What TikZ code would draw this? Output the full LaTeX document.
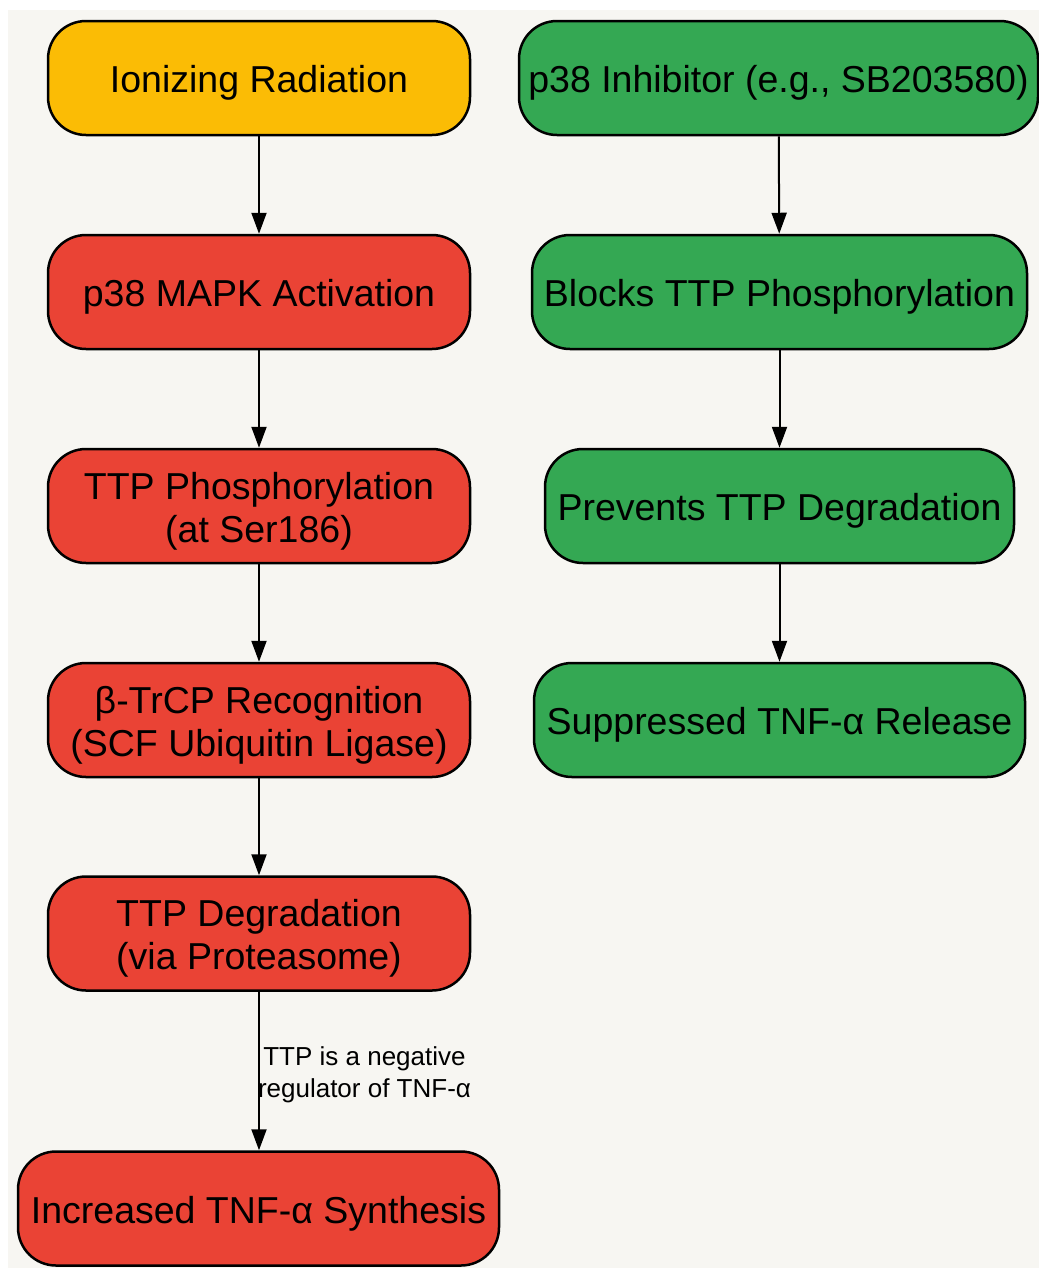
\documentclass[tikz,border=0pt]{standalone}
\usepackage{fontspec}
\setmainfont{Liberation Sans}
\usetikzlibrary{arrows.meta}
\definecolor{bgc}{HTML}{F7F6F2}
\definecolor{cyel}{HTML}{FBBC05}
\definecolor{cred}{HTML}{EA4335}
\definecolor{cgreen}{HTML}{34A853}
\begin{document}
\begin{tikzpicture}[x=1pt,y=-1pt,
  box/.style={draw=black, line width=2.5pt, rounded corners=38pt, minimum height=114pt, inner sep=0pt},
  boxtext/.style={align=center, font=\fontsize{37.5}{43}\selectfont, inner sep=0pt, yshift=-5pt},
  arr/.style={-{Triangle[length=21pt,width=15pt]}, line width=2pt},
  lbl/.style={font=\fontsize{26}{32}\selectfont, align=center, inner sep=0pt}]
\useasboundingbox (0,0) rectangle (1039,1270);
\fill[bgc] (8,10) rectangle (1039,1268);
% left column
\node[box, fill=cyel, minimum width=422pt, label={[boxtext]center:Ionizing Radiation}] (a) at (259,78) {};
\node[box, fill=cred, minimum width=422pt, label={[boxtext]center:p38 MAPK Activation}] (b) at (259,292) {};
\node[box, fill=cred, minimum width=422pt, label={[boxtext]center:{TTP Phosphorylation\\(at Ser186)}}] (c) at (259,506) {};
\node[box, fill=cred, minimum width=422pt, label={[boxtext]center:{β-TrCP Recognition\\(SCF Ubiquitin Ligase)}}] (d) at (259,720) {};
\node[box, fill=cred, minimum width=422pt, label={[boxtext]center:{TTP Degradation\\(via Proteasome)}}] (e) at (259,933.5) {};
\node[box, fill=cred, minimum width=481pt, label={[boxtext]center:Increased TNF-α Synthesis}] (f) at (258.5,1208.5) {};
% right column
\node[box, fill=cgreen, minimum width=519pt, label={[boxtext]center:{p38 Inhibitor (e.g., SB203580)}}] (g) at (778.5,78) {};
\node[box, fill=cgreen, minimum width=495pt, label={[boxtext]center:Blocks TTP Phosphorylation}] (h) at (779.5,292) {};
\node[box, fill=cgreen, minimum width=469pt, label={[boxtext]center:Prevents TTP Degradation}] (i) at (779.5,506) {};
\node[box, fill=cgreen, minimum width=491pt, label={[boxtext]center:Suppressed TNF-α Release}] (j) at (779.5,720) {};
% connectors
\draw[arr] (a) -- (b);
\draw[arr] (b) -- (c);
\draw[arr] (c) -- (d);
\draw[arr] (d) -- (e);
\draw[arr] (e.south) -- node[lbl, anchor=west, xshift=-2pt, yshift=-4pt] (l) {TTP is a negative\\regulator of TNF-α} (e.south |- f.north);
\draw[arr] (g) -- (h);
\draw[arr] (h) -- (i);
\draw[arr] (i) -- (j);
\end{tikzpicture}
\end{document}
